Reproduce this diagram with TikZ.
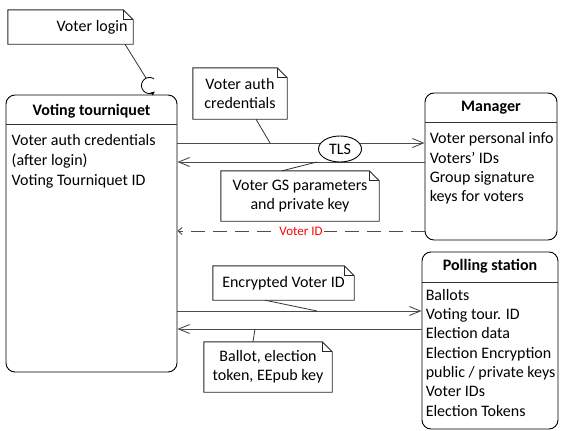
\documentclass[tikz,border=0pt]{standalone}
\usepackage{fontspec}
\setmainfont{Carlito}
\usetikzlibrary{arrows.meta,shapes.geometric,calc}
\newcommand\notefold[1]{%
  \draw[notebd] (#1.south west) -- (#1.north west) -- ([xshift=-10pt]#1.north east) -- ([yshift=-10pt]#1.north east) -- (#1.south east) -- cycle;
  \draw[notebd] ([xshift=-10pt]#1.north east) -- ([xshift=-10pt,yshift=-10pt]#1.north east) -- ([yshift=-10pt]#1.north east);}
\begin{document}
\begin{tikzpicture}[x=1pt,y=-1pt,
  every node/.style={font=\fontsize{16}{19.3}\selectfont},
  box/.style={draw=black, line width=0.9pt, rounded corners=9pt, inner sep=0pt},
  ttl/.style={font=\fontsize{16}{19.3}\selectfont\bfseries, inner sep=0pt},
  body/.style={align=left, anchor=north west, inner sep=0pt},
  divline/.style={draw=black!80, line width=0.9pt},
  msg/.style={draw=black!70, line width=0.9pt, -{Straight Barb[length=11pt,width=9pt]}},
  dmsg/.style={draw=black!70, line width=0.9pt, dash pattern=on 14pt off 8pt, -{Straight Barb[length=4pt,width=7pt]}},
  lbl/.style={font=\fontsize{13}{15}\selectfont, text=red, fill=white, inner sep=1pt},
  notebd/.style={draw=black!85, line width=0.9pt},
  note/.style={align=center, inner sep=0pt},
  conn/.style={draw=black!80, line width=0.8pt},
]
\useasboundingbox (0,0) rectangle (563,431);

% Boxes
\node[box, minimum width=171pt, minimum height=277pt] (vt) at (91.5,233.5) {};
\node[ttl] (vtt) at (91.5,111) {Voting tourniquet};
\draw[divline] ($(vt.north west)+(0,30)$) -- ($(vt.north east)+(0,30)$);
\node[body, font=\fontsize{16}{19.8}\selectfont] (vtb) at ($(vt.north west)+(6,40)$) {Voter auth credentials\\(after login)\\Voting Tourniquet ID};

\node[box, minimum width=132pt, minimum height=147pt] (mg) at (491,166.5) {};
\node[ttl] (mgt) at (491,108) {Manager};
\draw[divline] ($(mg.north west)+(0,30)$) -- ($(mg.north east)+(0,30)$);
\node[body] (mgb) at ($(mg.north west)+(5,40)$) {Voter personal info\\Voters’ IDs\\Group signature\\keys for voters};

\node[box, minimum width=136pt, minimum height=177pt] (ps) at (490,340.5) {};
\node[ttl] (pst) at (490,266) {Polling station};
\draw[divline] ($(ps.north west)+(0,31)$) -- ($(ps.north east)+(0,31)$);
\node[body] (psb) at ($(ps.north west)+(4,37.5)$) {Ballots\\Voting tour. ID\\Election data\\Election Encryption\\public / private keys\\Voter IDs\\Election Tokens};

% message levels
\coordinate (l1) at (0,143);
\coordinate (l2) at (0,162);
\coordinate (l3) at (0,231);
\coordinate (l4) at (0,311);
\coordinate (l5) at (0,329);

\draw[msg] (vt.east |- l1) -- (mg.west |- l1);
\draw[msg] (mg.west |- l2) -- (vt.east |- l2);
\node[ellipse, draw=black, line width=0.9pt, fill=white, minimum width=43pt, minimum height=26pt, inner sep=0pt] (tls) at (340,149) {TLS};
\draw[dmsg] (mg.west |- l3) -- (vt.east |- l3) node[lbl, pos=0.5] (vid) {Voter ID};
\draw[msg] (vt.east |- l4) -- (ps.west |- l4);
\draw[msg] (ps.west |- l5) -- (vt.east |- l5);

% Notes
\node[note, minimum height=34pt, text width=114pt, inner xsep=5.5pt, align=flush right] (nl) at (70.5,27) {Voter login};
\notefold{nl}
\node[note, minimum width=94pt, minimum height=51pt] (na) at (240,93.5) {Voter auth\\credentials};
\notefold{na}
\node[note, minimum width=158pt, minimum height=50pt] (ng) at (300,196) {Voter GS parameters\\and private key};
\notefold{ng}
\node[note, minimum width=141pt, minimum height=34pt] (ne) at (283.5,283) {Encrypted Voter ID};
\notefold{ne}
\node[note, minimum width=128pt, minimum height=50pt] (nb) at (268,367) {Ballot, election\\token, EEpub key};
\notefold{nb}

% connectors from notes
\coordinate (la) at (146,78);
\coordinate (ca) at (270,143);
\coordinate (cg) at (317,162);
\coordinate (ce) at (317,311);
\coordinate (cb) at (255,329);
\draw[conn] ([xshift=54.5pt]nl.south) -- (la);
\draw[conn] ([xshift=16pt]na.south) -- (ca);
\draw[conn] ([xshift=-18pt]ng.north) -- (cg);
\draw[conn] ([xshift=-18.5pt]ne.south) -- (ce);
\draw[conn] ([xshift=-15pt]nb.north) -- (cb);

% self loop
\draw[line width=0.8pt, -{Latex[length=4pt,width=4pt]}] plot[domain=-55:-312, samples=40, smooth] ({149.5+8*cos(\x)},{85.5+8*sin(\x)});
\end{tikzpicture}
\end{document}
